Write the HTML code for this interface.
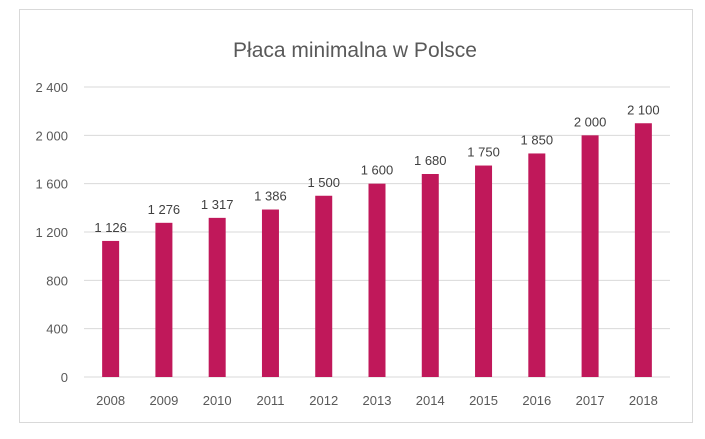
<!DOCTYPE html>
<html><head><meta charset="utf-8"><style>
body{margin:0;background:#fff;width:705px;height:434px;overflow:hidden;font-family:"Liberation Sans",sans-serif;}
</style></head><body>
<svg width="705" height="434">
<rect x="19.5" y="9.5" width="673" height="413" fill="#fff" stroke="#d9d9d9"/>
<text x="355" y="57" text-anchor="middle" font-size="21" fill="#595959">Płaca minimalna w Polsce</text>
<g id="grid"></g><g id="bars"></g>
</svg>
<script>
const categories=["2008","2009","2010","2011","2012","2013","2014","2015","2016","2017","2018"];
const values=[1126,1276,1317,1386,1500,1600,1680,1750,1850,2000,2100];
const valueLabels=["1 126","1 276","1 317","1 386","1 500","1 600","1 680","1 750","1 850","2 000","2 100"];
const ticks=[0,400,800,1200,1600,2000,2400];
const tickLabels=["0","400","800","1 200","1 600","2 000","2 400"];
const NS="http://www.w3.org/2000/svg";
const L=84,R=670,Y0=377,Ytop=87,MAX=2400;
const y=v=>Y0-(Y0-Ytop)*v/MAX;
const band=(R-L)/categories.length;
const x=i=>L+band*(i+0.5);
function mk(t,a,p){const e=document.createElementNS(NS,t);for(const k in a)e.setAttribute(k,a[k]);p.appendChild(e);return e;}
const g=document.getElementById('grid'),b=document.getElementById('bars');
ticks.forEach((t,i)=>{
 const ln=mk('line',{x1:L,x2:R,y1:y(t),y2:y(t),stroke:'#d9d9d9','stroke-width':1},g);
 
 
 const tx=mk('text',{x:68,y:y(t)+5,'text-anchor':'end','font-size':13,fill:'#595959'},g);
 tx.textContent=tickLabels[i];
 
 
});
categories.forEach((c,i)=>{
 const r=mk('rect',{x:x(i)-8.5,y:y(values[i]),width:17,height:Y0-y(values[i]),fill:'#c0185a'},b);
 
 
 const vl=mk('text',{x:x(i),y:y(values[i])-9,'text-anchor':'middle','font-size':13,fill:'#404040'},b);
 vl.textContent=valueLabels[i];
 
 
 const xl=mk('text',{x:x(i),y:405,'text-anchor':'middle','font-size':13,fill:'#595959'},b);
 xl.textContent=c;
 
 
});
</script>
</body></html>
